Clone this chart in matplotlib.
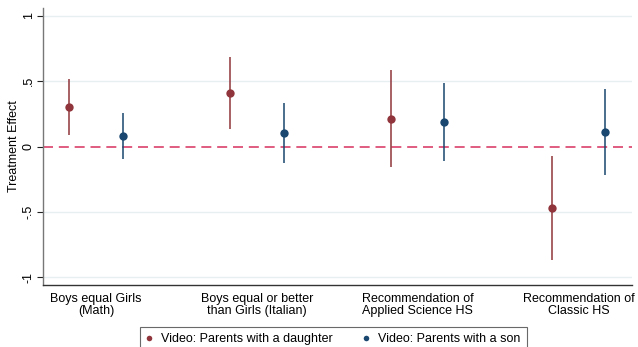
import matplotlib
matplotlib.use("Agg")
import matplotlib.pyplot as plt
from matplotlib.lines import Line2D

plt.rcParams['font.family'] = ['Liberation Sans', 'DejaVu Sans']

categories = ["Boys equal Girls\n(Math)",
              "Boys equal or better\nthan Girls (Italian)",
              "Recommendation of\nApplied Science HS",
              "Recommendation of\nClassic HS"]
series_names = ["Video: Parents with a daughter", "Video: Parents with a son"]

daughter_est = [0.305, 0.41, 0.214, -0.47]
daughter_lo = [0.09, 0.137, -0.157, -0.87]
daughter_hi = [0.52, 0.687, 0.585, -0.071]

son_est = [0.08, 0.105, 0.189, 0.11]
son_lo = [-0.096, -0.127, -0.109, -0.221]
son_hi = [0.257, 0.333, 0.484, 0.44]

yticks = [-1, -0.5, 0, 0.5, 1]
yticklabels = ["-1", "-.5", "0", ".5", "1"]

red = "#90353b"
blue = "#1a476f"
fs = 9.0

W, H = 638, 347
fig = plt.figure(figsize=(W / 100, H / 100), dpi=100)
ax = fig.add_axes([42.5 / W, 62 / H, (632 - 42.5) / W, (285 - 8) / H])

n = len(categories)
xd = [1 + 3 * i for i in range(n)]
xs = [2 + 3 * i for i in range(n)]

for y in [-1, -0.5, 0.5, 1]:
    ax.axhline(y, color="#e7eff1", lw=1.0, zorder=0)
ax.axhline(0, color="#d9416a", lw=1.2, dashes=(6, 3.5), zorder=1)

ax.vlines(xd, daughter_lo, daughter_hi, color=red, lw=1.1, zorder=2)
ax.plot(xd, daughter_est, 'o', color=red, ms=6, zorder=3, mec='none')
ax.vlines(xs, son_lo, son_hi, color=blue, lw=1.1, zorder=2)
ax.plot(xs, son_est, 'o', color=blue, ms=6, zorder=3, mec='none')

ax.set_xlim(0.5, 11.5)
ax.set_ylim(-1.06, 1.06)
ax.set_yticks(yticks)
ax.set_yticklabels(yticklabels, rotation=90, va='center', fontsize=fs)
ax.set_xticks([1.5 + 3 * i for i in range(n)])
ax.set_xticklabels(categories, fontsize=fs, linespacing=1.0)
ax.tick_params(axis='x', length=0, pad=6)
ax.tick_params(axis='y', length=4, width=0.8, pad=1.5, color='#222222')
ax.set_ylabel("Treatment Effect", fontsize=fs, labelpad=2)

for s in ['top', 'right']:
    ax.spines[s].set_visible(False)
ax.spines['left'].set_color('#777777')
ax.spines['left'].set_linewidth(1.0)
ax.spines['bottom'].set_color('#333333')
ax.spines['bottom'].set_linewidth(1.0)

handles = [Line2D([], [], marker='o', ls='none', color=red, ms=4, mec='none'),
           Line2D([], [], marker='o', ls='none', color=blue, ms=4, mec='none')]
leg = fig.legend(handles, series_names, loc='upper left',
                 bbox_to_anchor=(140 / W, 1 - 327 / H), ncol=2,
                 fontsize=fs, frameon=True, fancybox=False, borderpad=0.5,
                 handlelength=0.5, handletextpad=0.7, columnspacing=2.4,
                 borderaxespad=0)
leg.get_frame().set_edgecolor('#444444')
leg.get_frame().set_linewidth(0.8)

fig.savefig("out.png", dpi=100)
